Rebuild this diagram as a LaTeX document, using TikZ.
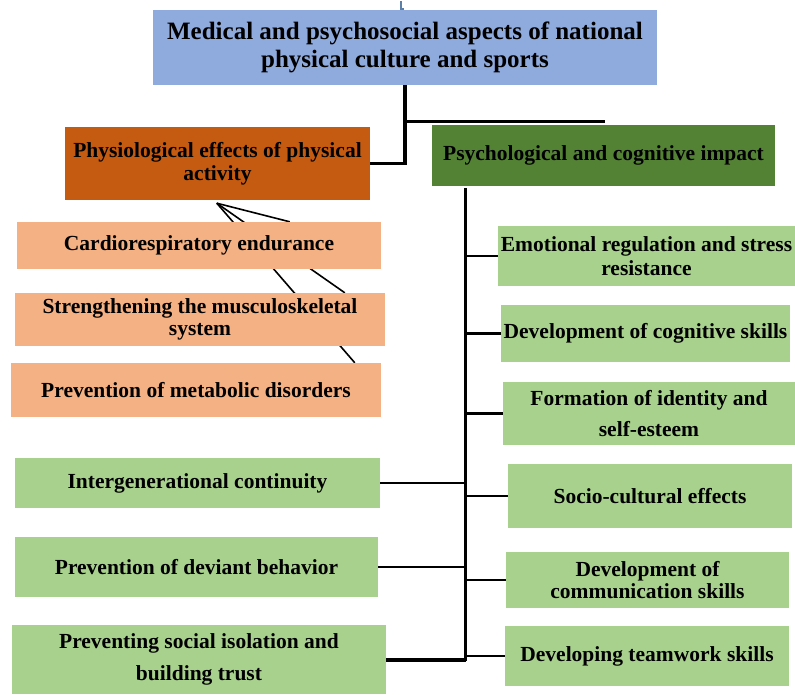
\documentclass[tikz,border=0pt]{standalone}
\usepackage{fontspec}
\setmainfont{Liberation Serif}
\usetikzlibrary{calc,backgrounds}
\definecolor{topblue}{HTML}{8FAADC}
\definecolor{rust}{HTML}{C55A11}
\definecolor{darkgreen}{HTML}{548235}
\definecolor{salmon}{HTML}{F4B183}
\definecolor{lightgreen}{HTML}{A9D18E}
\definecolor{markblue}{HTML}{5B7FA8}

\begin{document}
\begin{tikzpicture}[x=1pt,y=-1pt,
  box/.style={rectangle, inner sep=0pt, align=center, text=black,
    font=\bfseries\fontsize{21.5}{23.5}\selectfont},
  bigtext/.style={font=\bfseries\fontsize{25}{28}\selectfont},
  wide/.style={font=\bfseries\fontsize{21.5}{31.5}\selectfont},
  conn/.style={line width=2.5pt, black},
  spine/.style={line width=3pt, black},
  feed/.style={line width=1.6pt, black}]

% canvas (kept on the background layer, under the feed lines)
\begin{pgfonlayer}{background}
  \fill[white] (0,0) rectangle (795,694);
\end{pgfonlayer}
\useasboundingbox (0,0) rectangle (795,694);

% small mark above the title
\draw[markblue, line width=1.2pt] (401,1) -- (401,9) -- (404,9);

% title and the two main branches
\node[box, bigtext, fill=topblue, minimum width=504pt, minimum height=75pt] (title) at (405,47.5)
  {Medical and psychosocial aspects of national\\physical culture and sports};
\node[box, fill=rust, minimum width=305pt, minimum height=73pt] (phys) at (217.5,163.5)
  {Physiological effects of physical\\activity};
\node[box, fill=darkgreen, minimum width=343pt, minimum height=61pt] (psych) at (603.5,155.5)
  {Psychological and cognitive impact};

% physiological effects
\node[box, fill=salmon, minimum width=364pt, minimum height=47pt] (cardio) at (199,245.5)
  {Cardiorespiratory endurance};
\node[box, fill=salmon, minimum width=370pt, minimum height=53pt, font=\bfseries\fontsize{21.5}{22}\selectfont] (muscle) at (200,319.5)
  {Strengthening the musculoskeletal\\system};
\node[box, fill=salmon, minimum width=370pt, minimum height=54pt] (metab) at (196,390)
  {Prevention of metabolic disorders};

% social effects on the left
\node[box, fill=lightgreen, minimum width=365pt, minimum height=50pt] (inter) at (197.5,483)
  {Intergenerational continuity};
\node[box, fill=lightgreen, minimum width=363pt, minimum height=60pt] (deviant) at (196.5,567)
  {Prevention of deviant behavior};
\node[box, wide, fill=lightgreen, minimum width=374pt, minimum height=69pt] (trust) at (199,659.5)
  {Preventing social isolation and\\building trust};

% psychological and cognitive effects on the right
\node[box, fill=lightgreen, minimum width=297pt, minimum height=60pt, font=\bfseries\fontsize{21.5}{24}\selectfont] (emo) at (646.5,256)
  {Emotional regulation and stress\\resistance};
\node[box, fill=lightgreen, minimum width=289pt, minimum height=57pt] (cog) at (645.5,333.5)
  {Development of cognitive skills};
\node[box, wide, fill=lightgreen, minimum width=292pt, minimum height=63pt] (ident) at (649,413.5)
  {Formation of identity and\\self-esteem};
\node[box, fill=lightgreen, minimum width=284pt, minimum height=64pt] (socio) at (650,496)
  {Socio-cultural effects};
\node[box, fill=lightgreen, minimum width=283pt, minimum height=56pt, font=\bfseries\fontsize{21.5}{22}\selectfont] (comm) at (647.5,580)
  {Development of\\communication skills};
\node[box, fill=lightgreen, minimum width=284pt, minimum height=60pt] (team) at (647,656)
  {Developing teamwork skills};

% connectors from the title
\coordinate (psychtop) at ($(psych.north)+(1.5,-3)$);
\draw[line width=3.5pt] (title.south) |- (phys.east);
\draw[line width=3pt] (title.south) |- (psychtop);

% spine under the psychological box
\coordinate (spinetop) at ($(psych.south west)+(34,2)$);
\coordinate (spinebot) at ($(spinetop)+(0,473)$);
\draw[spine] (spinetop) -- (spinebot);

% right-hand branches
\draw[conn] (spinetop |- emo.west) -- (emo.west);
\draw[line width=3.5pt] (spinetop |- cog.west) -- (cog.west);
\draw[conn] (spinetop |- ident.west) -- (ident.west);
\draw[conn] (spinetop |- socio.west) -- (socio.west);
\draw[conn] (spinetop |- comm.west) -- (comm.west);
\draw[conn] (spinetop |- team.west) -- (team.west);

% left-hand branches
\draw[conn] (inter.east) -- (inter.east -| spinetop);
\draw[conn] (deviant.east) -- (deviant.east -| spinetop);
\draw[line width=4pt] (trust.east) -- (trust.east -| spinetop);

% lines feeding the physiological box, passing behind the boxes
\coordinate (tip) at ($(phys.south west)+(152,3)$);
\begin{pgfonlayer}{background}
  \draw[feed] ($(cardio.north west)+(273,0)$) -- (tip);
  \draw[feed] ($(muscle.north west)+(330,0)$) -- (tip);
  \draw[feed] ($(metab.north west)+(344,0)$) -- (tip);
\end{pgfonlayer}
\end{tikzpicture}
\end{document}
